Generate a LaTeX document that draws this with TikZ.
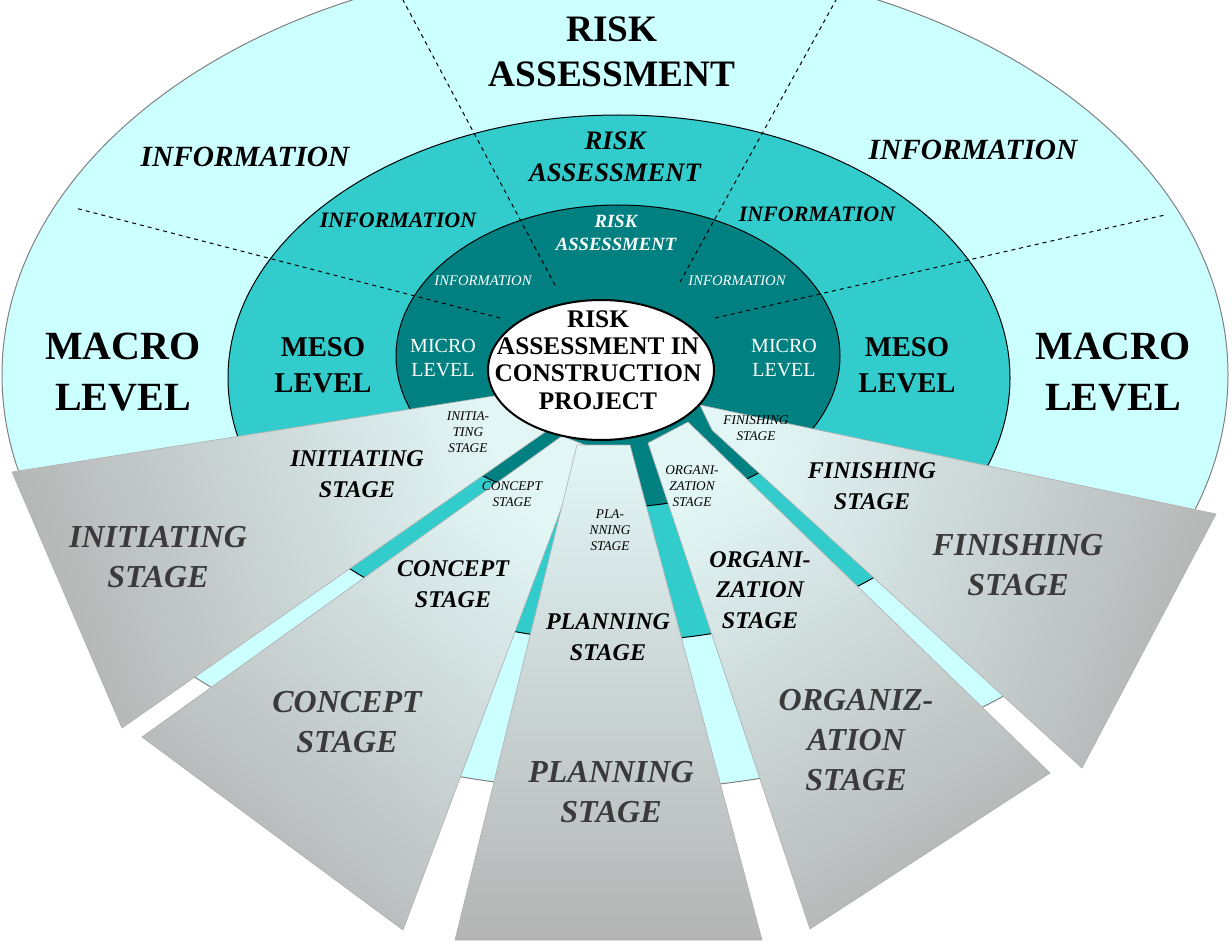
\documentclass[tikz,border=0pt]{standalone}
\usepackage{fontspec}
\setmainfont{Liberation Serif}
\definecolor{macrocol}{HTML}{CCFFFF}
\definecolor{mesocol}{HTML}{33CCCC}
\definecolor{microcol}{HTML}{008080}
\definecolor{fanlight}{HTML}{E2F6F6}
\definecolor{fangray}{HTML}{B4B4B4}
\definecolor{stagetext}{HTML}{3A3A3A}
\tikzset{every picture/.style={line width=0.75pt}}
\tikzset{
  fan/.style={draw=gray!60, line width=0.5pt, top color=fanlight, bottom color=fangray, shading angle=#1},
  ring/.style={draw=black, line width=0.75pt},
  split/.style={dashed, line width=0.75pt},
  lbl/.style={align=center, font=\bfseries, inner sep=0pt},
  ilbl/.style={align=center, font=\bfseries\itshape, inner sep=0pt},
}

\begin{document}
\begin{tikzpicture}[x=0.75pt,y=0.75pt,yscale=-1,xscale=1]
	\useasboundingbox (0,0) rectangle (1232,945);
	\clip (0,0) rectangle (1232,945);

	%Shape: Ellipse [id:macro]
	\draw [ring, draw=gray, fill=macrocol] (615,375) ellipse [x radius=613, y radius=415];
	%Shape: Ellipse [id:meso]
	\draw [ring, fill=mesocol] (619,378) ellipse [x radius=391, y radius=263];
	%Shape: Ellipse [id:micro]
	\draw [ring, fill=microcol] (618,356) ellipse [x radius=222, y radius=151];

	%Straight Lines [id:splits]
	\coordinate (sl1) at (500,318); \coordinate (el1) at (75,208);
	\coordinate (sl2) at (555,285); \coordinate (el2) at (403,0);
	\coordinate (sl3) at (680,282); \coordinate (el3) at (836,0);
	\coordinate (sl4) at (715,318); \coordinate (el4) at (1165,215);
	\draw [split] (sl1) -- (el1);
	\draw [split] (sl2) -- (el2);
	\draw [split] (sl3) -- (el3);
	\draw [split] (sl4) -- (el4);

	%Shape: Polygon [id:fans]
	\path [fan=-70] (513,393) -- (12,472) -- (122,728) -- (548,430) -- cycle;
	\path [fan=-40] (562,436) -- (142,737) -- (403,930) -- (585,445) -- cycle;
	\path [fan=0] (577,445) -- (455,940) -- (762,940) -- (630,445) -- cycle;
	\path [fan=32] (648,443) -- (810,929) -- (1050,773) -- (688,422) -- cycle;
	\path [fan=70] (700,405) -- (1216,514) -- (1082,768) -- (712,430) -- cycle;

	%Shape: Ellipse [id:core]
	\draw [ring, line width=1.5pt, fill=white] (601,370) ellipse [x radius=113, y radius=70];

	% Text Node
	\node [lbl, font=\bfseries\fontsize{28}{34}\selectfont] (riskmacro) at (612,52) {RISK\\ASSESSMENT};
	\node [ilbl, font=\bfseries\itshape\fontsize{22}{26}\selectfont] (infomacrol) at (245,157) {INFORMATION};
	\node [ilbl, font=\bfseries\itshape\fontsize{22}{26}\selectfont] (infomacror) at (973,150) {INFORMATION};
	\node [lbl, font=\bfseries\fontsize{30}{38}\selectfont] (macrol) at (123,372) {MACRO\\LEVEL};
	\node [lbl, font=\bfseries\fontsize{30}{38}\selectfont] (macror) at (1113,372) {MACRO\\LEVEL};
	% Text Node
	\node [ilbl, font=\bfseries\itshape\fontsize{20}{24}\selectfont] (riskmeso) at (615,157) {RISK\\ASSESSMENT};
	\node [ilbl, font=\bfseries\itshape\fontsize{16.5}{20}\selectfont] (infomesol) at (398,220) {INFORMATION};
	\node [ilbl, font=\bfseries\itshape\fontsize{16.5}{20}\selectfont] (infomesor) at (817,214) {INFORMATION};
	\node [lbl, font=\bfseries\fontsize{21.5}{27}\selectfont] (mesol) at (323,365) {MESO\\LEVEL};
	\node [lbl, font=\bfseries\fontsize{21.5}{27}\selectfont] (mesor) at (907,365) {MESO\\LEVEL};
	% Text Node
	\node [ilbl, text=white, font=\bfseries\itshape\fontsize{14}{17}\selectfont] (riskmicro) at (616,233) {RISK\\ASSESSMENT};
	\node [ilbl, text=white, font=\itshape\fontsize{11}{13}\selectfont] (infomicrol) at (483,281) {INFORMATION};
	\node [ilbl, text=white, font=\itshape\fontsize{11}{13}\selectfont] (infomicror) at (737,281) {INFORMATION};
	\node [lbl, text=white, font=\fontsize{15}{18}\selectfont] (microl) at (443,358) {MICRO\\LEVEL};
	\node [lbl, text=white, font=\fontsize{15}{18}\selectfont] (micror) at (784,358) {MICRO\\LEVEL};
	% Text Node
	\node [lbl, font=\bfseries\fontsize{19}{20.5}\selectfont] (core) at (598,360) {RISK\\ASSESSMENT IN\\CONSTRUCTION\\PROJECT};

	% Text Node
	\node [ilbl, font=\itshape\fontsize{10}{12}\selectfont] (initmicro) at (468,432) {INITIA-\\TING\\STAGE};
	\node [ilbl, font=\itshape\fontsize{10}{12}\selectfont] (concmicro) at (512,494) {CONCEPT\\STAGE};
	\node [ilbl, font=\itshape\fontsize{10}{12}\selectfont] (planmicro) at (610,530) {PLA-\\NNING\\STAGE};
	\node [ilbl, font=\itshape\fontsize{10}{12}\selectfont] (orgmicro) at (692,486) {ORGANI-\\ZATION\\STAGE};
	\node [ilbl, font=\itshape\fontsize{10}{12}\selectfont] (finmicro) at (756,428) {FINISHING\\STAGE};
	% Text Node
	\node [ilbl, font=\bfseries\itshape\fontsize{18}{23}\selectfont] (initmeso) at (357,474) {INITIATING\\STAGE};
	\node [ilbl, font=\bfseries\itshape\fontsize{18}{23}\selectfont] (concmeso) at (453,584) {CONCEPT\\STAGE};
	\node [ilbl, font=\bfseries\itshape\fontsize{18}{23}\selectfont] (planmeso) at (608,637) {PLANNING\\STAGE};
	\node [ilbl, font=\bfseries\itshape\fontsize{18}{23}\selectfont] (orgmeso) at (760,590) {ORGANI-\\ZATION\\STAGE};
	\node [ilbl, font=\bfseries\itshape\fontsize{18}{23}\selectfont] (finmeso) at (872,486) {FINISHING\\STAGE};
	% Text Node
	\node [ilbl, text=stagetext, font=\bfseries\itshape\fontsize{24}{30}\selectfont] (initmacro) at (158,557) {INITIATING\\STAGE};
	\node [ilbl, text=stagetext, font=\bfseries\itshape\fontsize{24}{30}\selectfont] (concmacro) at (347,722) {CONCEPT\\STAGE};
	\node [ilbl, text=stagetext, font=\bfseries\itshape\fontsize{24}{30}\selectfont] (planmacro) at (611,792) {PLANNING\\STAGE};
	\node [ilbl, text=stagetext, font=\bfseries\itshape\fontsize{24}{30}\selectfont] (orgmacro) at (856,740) {ORGANIZ-\\ATION\\STAGE};
	\node [ilbl, text=stagetext, font=\bfseries\itshape\fontsize{24}{30}\selectfont] (finmacro) at (1018,565) {FINISHING\\STAGE};

\end{tikzpicture}
\end{document}
